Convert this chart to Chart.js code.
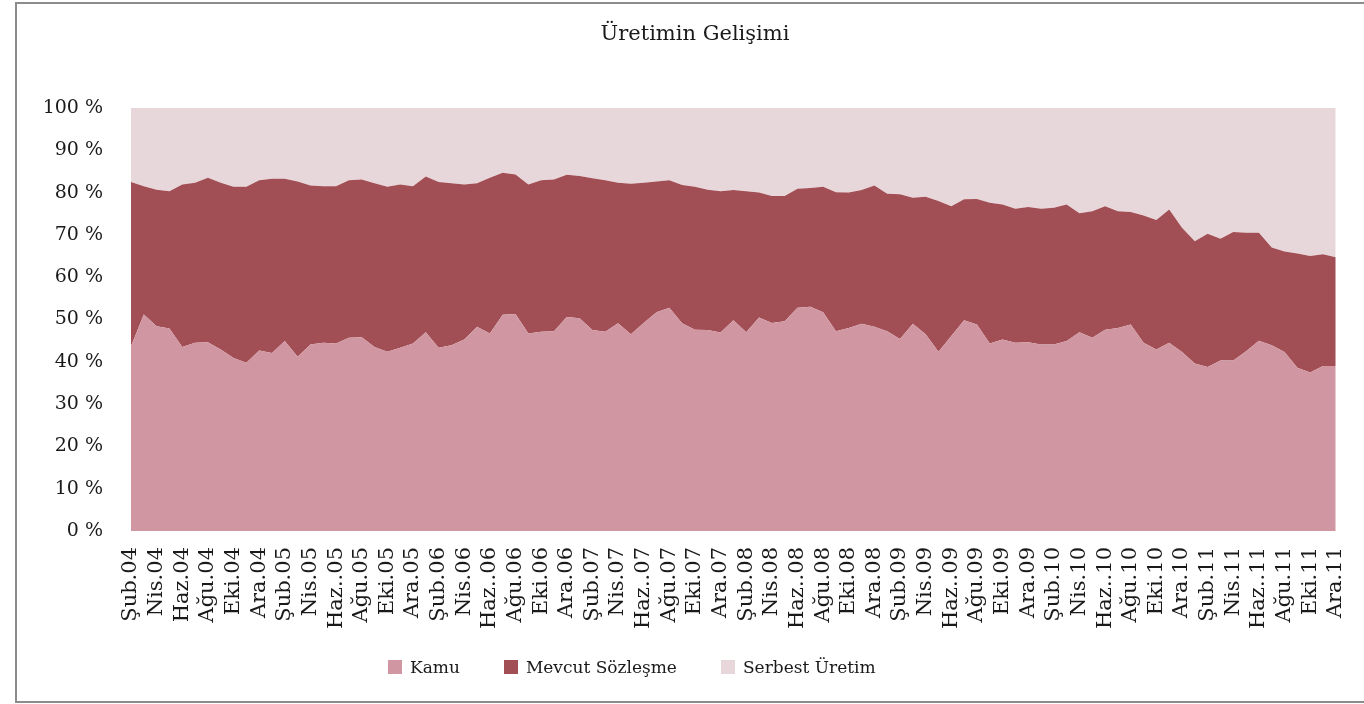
<!DOCTYPE html>
<html lang="tr">
<head>
<meta charset="UTF-8">
<title>Üretimin Gelişimi</title>
<script src="https://cdn.jsdelivr.net/npm/chart.js@4.4.0/dist/chart.umd.min.js"></script>
<style>
  html, body { margin: 0; padding: 0; background: #fff; overflow: hidden; }
  body { width: 1364px; height: 704px; position: relative; font-family: "DejaVu Serif", serif; }
  .frame { position: absolute; left: 15px; top: 2px; width: 1500px; height: 701px; border: 2px solid #8c8c8c; border-right: none; box-sizing: border-box; }
  #chart { position: absolute; left: 17px; top: 4px; }
  .legend { position: absolute; left: 388px; top: 655px; display: flex; gap: 44px; font-size: 17px; color: #1a1a1a; line-height: 24px; }
  .legend .item { display: flex; align-items: center; }
  .legend .box { width: 14px; height: 14px; margin-right: 8px; }
</style>
</head>
<body>
<div class="frame"></div>
<canvas id="chart" width="1360" height="696"></canvas>
<div class="legend" id="legend"></div>

<script>
// monthly categories, Şub.04 .. Ara.11
const months = [
  'Şub.04','Mar.04','Nis.04','May.04','Haz.04','Tem.04','Ağu.04','Eyl.04','Eki.04','Kas.04','Ara.04',
  'Oca.05','Şub.05','Mar.05','Nis.05','May.05','Haz..05','Tem.05','Ağu.05','Eyl.05','Eki.05','Kas.05','Ara.05',
  'Oca.06','Şub.06','Mar.06','Nis.06','May.06','Haz..06','Tem.06','Ağu.06','Eyl.06','Eki.06','Kas.06','Ara.06',
  'Oca.07','Şub.07','Mar.07','Nis.07','May.07','Haz..07','Tem.07','Ağu.07','Eyl.07','Eki.07','Kas.07','Ara.07',
  'Oca.08','Şub.08','Mar.08','Nis.08','May.08','Haz..08','Tem.08','Ağu.08','Eyl.08','Eki.08','Kas.08','Ara.08',
  'Oca.09','Şub.09','Mar.09','Nis.09','May.09','Haz..09','Tem.09','Ağu.09','Eyl.09','Eki.09','Kas.09','Ara.09',
  'Oca.10','Şub.10','Mar.10','Nis.10','May.10','Haz..10','Tem.10','Ağu.10','Eyl.10','Eki.10','Kas.10','Ara.10',
  'Oca.11','Şub.11','Mar.11','Nis.11','May.11','Haz..11','Tem.11','Ağu.11','Eyl.11','Eki.11','Kas.11','Ara.11'
];

// shares in %
const kamu = [
  43.7, 51.2, 48.4, 47.9, 43.5, 44.5, 44.6, 42.9, 40.9, 39.8,
  42.7, 42.1, 44.9, 41.2, 44.1, 44.5, 44.3, 45.7, 45.8, 43.5,
  42.4, 43.3, 44.3, 47.0, 43.3, 43.9, 45.3, 48.3, 46.7, 51.1,
  51.3, 46.7, 47.1, 47.2, 50.6, 50.3, 47.5, 47.1, 49.1, 46.5,
  49.2, 51.7, 52.8, 49.1, 47.6, 47.5, 46.9, 49.8, 47.0, 50.5,
  49.2, 49.6, 52.8, 53.0, 51.7, 47.2, 48.0, 49.0, 48.3, 47.2,
  45.4, 49.0, 46.5, 42.4, 46.1, 49.8, 48.8, 44.3, 45.3, 44.5,
  44.6, 44.1, 44.1, 44.9, 47.0, 45.7, 47.6, 48.0, 48.8, 44.5,
  42.9, 44.5, 42.3, 39.6, 38.8, 40.3, 40.3, 42.5, 45.0, 43.9,
  42.3, 38.6, 37.5, 39.0, 39.0
];
const mevcut = [
  38.8, 30.3, 32.3, 32.4, 38.4, 37.8, 38.9, 39.4, 40.5, 41.6,
  40.2, 41.2, 38.4, 41.4, 37.6, 37.0, 37.2, 37.2, 37.3, 38.7,
  39.0, 38.6, 37.2, 36.8, 39.2, 38.3, 36.6, 33.9, 36.8, 33.6,
  33.0, 35.2, 35.8, 35.9, 33.6, 33.6, 35.9, 35.8, 33.2, 35.6,
  33.1, 30.9, 30.1, 32.7, 33.8, 33.2, 33.4, 30.8, 33.3, 29.5,
  30.0, 29.6, 28.1, 28.1, 29.7, 32.9, 32.0, 31.6, 33.4, 32.5,
  34.2, 29.8, 32.5, 35.6, 30.7, 28.6, 29.7, 33.3, 31.9, 31.7,
  32.0, 32.1, 32.3, 32.3, 28.1, 29.9, 29.2, 27.6, 26.6, 30.1,
  30.6, 31.5, 29.4, 28.9, 31.5, 28.8, 30.4, 28.0, 25.5, 23.1,
  23.8, 27.0, 27.5, 26.4, 25.7
];
const serbest = [
  17.5, 18.5, 19.3, 19.7, 18.1, 17.7, 16.5, 17.7, 18.6, 18.6,
  17.1, 16.7, 16.7, 17.4, 18.3, 18.5, 18.5, 17.1, 16.9, 17.8,
  18.6, 18.1, 18.5, 16.2, 17.5, 17.8, 18.1, 17.8, 16.5, 15.3,
  15.7, 18.1, 17.1, 16.9, 15.8, 16.1, 16.6, 17.1, 17.7, 17.9,
  17.7, 17.4, 17.1, 18.2, 18.6, 19.3, 19.7, 19.4, 19.7, 20.0,
  20.8, 20.8, 19.1, 18.9, 18.6, 19.9, 20.0, 19.4, 18.3, 20.3,
  20.4, 21.2, 21.0, 22.0, 23.2, 21.6, 21.5, 22.4, 22.8, 23.8,
  23.4, 23.8, 23.6, 22.8, 24.9, 24.4, 23.2, 24.4, 24.6, 25.4,
  26.5, 24.0, 28.3, 31.5, 29.7, 30.9, 29.3, 29.5, 29.5, 33.0,
  33.9, 34.4, 35.0, 34.6, 35.3
];

const yTicks = [0, 10, 20, 30, 40, 50, 60, 70, 80, 90, 100];

const seriesNames = ['Kamu', 'Mevcut Sözleşme', 'Serbest Üretim'];
const seriesColors = ['#d096a1', '#a24e55', '#e8d7da'];

const FONT = '"DejaVu Serif", serif';
const TEXT = '#1a1a1a';

const ds = [kamu, mevcut, serbest].map((vals, i) => ({
  label: seriesNames[i],
  data: vals,
  backgroundColor: seriesColors[i],
  borderColor: seriesColors[i],
  borderWidth: 0,
  pointRadius: 0,
  tension: 0,
  fill: i === 0 ? 'origin' : '-1'
}));

const chart = new Chart(document.getElementById('chart'), {
  type: 'line',
  data: { labels: months, datasets: ds },
  options: {
    responsive: false,
    animation: false,
    layout: { padding: { left: 0, right: 4, top: 0, bottom: 0 } },
    plugins: {
      legend: { display: false },
      tooltip: { enabled: false },
      title: {
        display: true,
        text: 'Üretimin Gelişimi',
        color: TEXT,
        font: { family: FONT, size: 21, weight: 'normal', lineHeight: 1.2 },
        padding: { top: 18, bottom: 60.8 }
      }
    },
    scales: {
      x: {
        offset: false,
        grid: { display: false, drawTicks: false },
        border: { display: false },
        ticks: {
          autoSkip: false,
          maxRotation: 90,
          minRotation: 90,
          padding: 16,
          color: TEXT,
          font: { family: FONT, size: 21 },
          callback: function (value, index) {
            return index % 2 === 0 ? this.getLabelForValue(value) : '';
          }
        },
        afterFit: (s) => { s.height = 169; }
      },
      y: {
        stacked: true,
        min: 0,
        max: 100,
        grid: { display: false, drawTicks: false },
        border: { display: false },
        afterBuildTicks: (s) => { s.ticks = yTicks.map(v => ({ value: v })); },
        ticks: {
          padding: 28,
          color: TEXT,
          font: { family: FONT, size: 19 },
          callback: (v) => v + ' %'
        },
        afterFit: (s) => { s.width = 114; }
      },
      // empty right-hand spacer so the title centres like the original
      yr: {
        position: 'right',
        grid: { display: false, drawTicks: false },
        border: { display: false },
        ticks: { display: false },
        afterFit: (s) => { s.width = 32; }
      }
    }
  }
});

// legend built from the chart datasets
const legendEl = document.getElementById('legend');
chart.data.datasets.forEach(d => {
  const item = document.createElement('div');
  item.className = 'item';
  const box = document.createElement('span');
  box.className = 'box';
  box.style.background = d.backgroundColor;
  const txt = document.createElement('span');
  txt.textContent = d.label;
  item.appendChild(box);
  item.appendChild(txt);
  legendEl.appendChild(item);
});
</script>
</body>
</html>
